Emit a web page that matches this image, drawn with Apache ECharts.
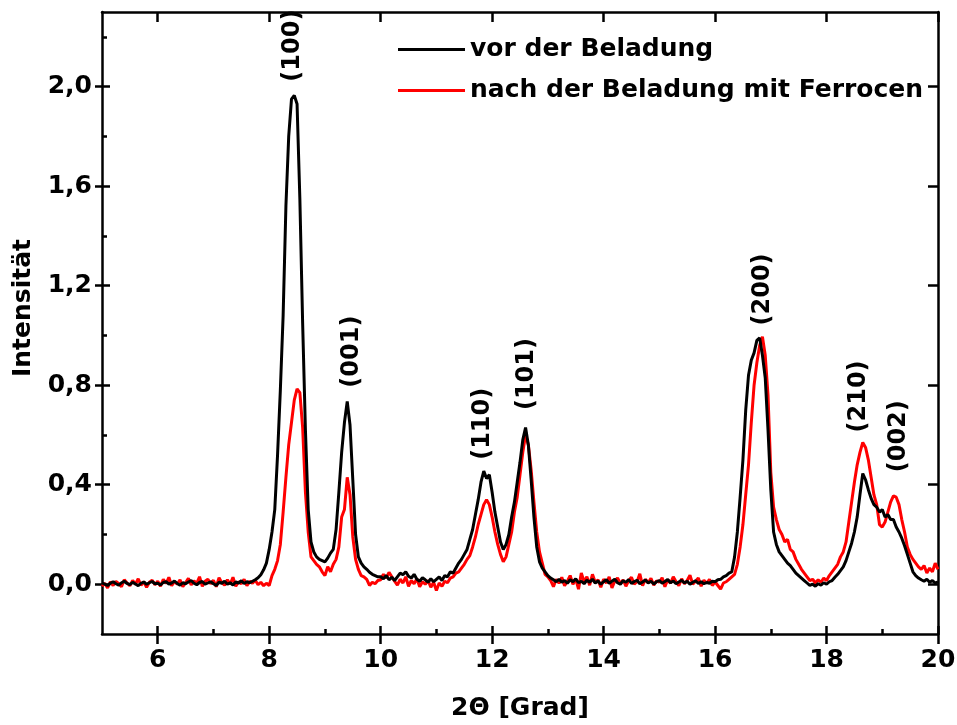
<!DOCTYPE html>
<html>
<head>
<meta charset="utf-8">
<script src="https://cdn.jsdelivr.net/npm/echarts@6/dist/echarts.min.js"></script>
<style>
  html, body { margin: 0; background: #fff; }
  #chart { width: 957px; height: 725px; }
</style>
</head>
<body>
<div id="chart"></div>
<script>
// XRD Diffraktogramm, 2Theta von 5 bis 20 Grad, Schrittweite 0,05
var startWinkel = 5;
var schritt = 0.05;

// vor der Beladung (schwarz), 301 Werte
var vorBeladung = [
  0.005, 0.000, -0.005, 0.004, 0.010, 0.002, -0.004, 0.006, 0.012, 0.003, -0.002, 0.008, 0.001, -0.006, 0.004, 0.009, 0.000, 0.006, 0.011, 0.002,
  0.004, -0.003, 0.007, 0.010, 0.001, 0.005, 0.013, 0.003, -0.004, 0.006, 0.002, 0.009, 0.015, 0.004, -0.002, 0.007, 0.011, 0.000, 0.005, 0.010,
  0.002, -0.005, 0.008, 0.004, 0.012, 0.000, 0.006, -0.003, 0.009, 0.005, 0.014, 0.003, 0.010, 0.006, 0.012, 0.018, 0.026, 0.038, 0.058, 0.085,
  0.140, 0.210, 0.300, 0.520, 0.780, 1.080, 1.520, 1.800, 1.950, 1.965, 1.930, 1.550, 1.050, 0.620, 0.300, 0.170, 0.130, 0.110, 0.100, 0.095,
  0.090, 0.105, 0.125, 0.140, 0.220, 0.370, 0.530, 0.650, 0.735, 0.640, 0.420, 0.200, 0.110, 0.085, 0.070, 0.060, 0.048, 0.040, 0.035, 0.030,
  0.030, 0.022, 0.035, 0.018, 0.028, 0.015, 0.030, 0.045, 0.038, 0.050, 0.032, 0.025, 0.040, 0.020, 0.012, 0.026, 0.018, 0.008, 0.022, 0.010,
  0.020, 0.030, 0.015, 0.035, 0.030, 0.050, 0.045, 0.065, 0.085, 0.100, 0.120, 0.140, 0.180, 0.220, 0.280, 0.340, 0.410, 0.455, 0.425, 0.440,
  0.370, 0.290, 0.230, 0.170, 0.140, 0.160, 0.200, 0.270, 0.330, 0.410, 0.490, 0.580, 0.630, 0.560, 0.420, 0.270, 0.150, 0.090, 0.065, 0.050,
  0.035, 0.025, 0.018, 0.010, 0.020, 0.008, 0.015, 0.004, 0.018, 0.010, 0.022, 0.006, 0.012, 0.002, 0.016, 0.008, 0.020, 0.005, 0.013, 0.000,
  0.010, 0.018, 0.004, 0.012, 0.020, 0.006, 0.000, 0.014, 0.008, 0.019, 0.003, 0.011, 0.016, 0.002, 0.009, 0.017, 0.005, 0.012, 0.001, 0.010,
  0.015, 0.004, 0.011, 0.019, 0.006, 0.013, 0.002, 0.009, 0.016, 0.005, 0.012, 0.000, 0.008, 0.014, 0.003, 0.010, 0.002, 0.007, 0.004, 0.012,
  0.010, 0.018, 0.020, 0.030, 0.035, 0.045, 0.050, 0.110, 0.210, 0.350, 0.500, 0.700, 0.840, 0.900, 0.930, 0.980, 0.990, 0.920, 0.830, 0.620,
  0.380, 0.210, 0.160, 0.130, 0.115, 0.100, 0.085, 0.075, 0.060, 0.045, 0.035, 0.025, 0.015, 0.005, -0.005, 0.000, -0.008, 0.002, -0.004, 0.006,
  0.000, 0.010, 0.015, 0.028, 0.040, 0.055, 0.070, 0.095, 0.130, 0.165, 0.210, 0.270, 0.360, 0.445, 0.420, 0.380, 0.345, 0.320, 0.310, 0.290,
  0.300, 0.270, 0.280, 0.260, 0.260, 0.230, 0.210, 0.185, 0.155, 0.120, 0.085, 0.050, 0.035, 0.025, 0.018, 0.012, 0.020, 0.008, 0.015, 0.005,
  0.010
];

// nach der Beladung mit Ferrocen (rot)
var nachBeladung = [
  -0.008, 0.004, -0.015, 0.010, -0.005, 0.012, 0.002, -0.010, 0.018, 0.005, -0.006, 0.015, 0.000, 0.022, -0.004, 0.010, -0.012, 0.008, 0.016, -0.002,
  0.012, -0.008, 0.020, 0.003, 0.028, -0.006, 0.010, 0.000, 0.018, -0.010, 0.006, 0.024, -0.003, 0.014, 0.004, 0.030, -0.008, 0.012, 0.020, 0.002,
  0.016, -0.010, 0.026, 0.006, -0.004, 0.018, 0.000, 0.028, -0.008, 0.010, 0.002, 0.020, -0.006, 0.012, 0.004, 0.016, -0.002, 0.008, -0.006, 0.004,
  -0.005, 0.035, 0.060, 0.095, 0.160, 0.290, 0.430, 0.560, 0.650, 0.740, 0.785, 0.770, 0.630, 0.370, 0.210, 0.110, 0.095, 0.080, 0.070, 0.050,
  0.035, 0.070, 0.050, 0.080, 0.100, 0.150, 0.270, 0.300, 0.430, 0.360, 0.190, 0.100, 0.060, 0.035, 0.030, 0.020, -0.005, 0.008, 0.002, 0.015,
  0.018, 0.040, 0.025, 0.048, 0.030, 0.012, -0.004, 0.020, 0.005, 0.030, -0.008, 0.015, 0.002, 0.022, -0.010, 0.010, 0.000, 0.015, -0.012, 0.008,
  -0.025, 0.005, -0.008, 0.012, 0.006, 0.025, 0.030, 0.045, 0.050, 0.065, 0.080, 0.100, 0.115, 0.150, 0.190, 0.240, 0.280, 0.320, 0.340, 0.320,
  0.270, 0.210, 0.160, 0.120, 0.090, 0.110, 0.160, 0.210, 0.290, 0.350, 0.440, 0.530, 0.600, 0.560, 0.460, 0.330, 0.210, 0.130, 0.085, 0.040,
  0.030, 0.015, -0.010, 0.020, 0.004, 0.028, -0.006, 0.012, 0.035, 0.000, 0.022, -0.020, 0.045, 0.010, 0.030, -0.004, 0.040, 0.008, 0.018, -0.012,
  0.020, 0.005, 0.030, -0.015, 0.012, 0.025, 0.002, 0.018, -0.008, 0.015, 0.028, 0.000, 0.010, 0.042, -0.006, 0.020, 0.006, 0.024, -0.004, 0.014,
  0.008, 0.026, -0.010, 0.018, 0.004, 0.030, 0.010, -0.006, 0.022, 0.002, 0.015, 0.036, 0.000, 0.012, 0.025, -0.008, 0.016, 0.004, 0.020, -0.005,
  0.010, -0.005, -0.020, 0.005, 0.010, 0.020, 0.030, 0.040, 0.080, 0.150, 0.240, 0.360, 0.480, 0.650, 0.800, 0.890, 0.960, 0.995, 0.920, 0.760,
  0.450, 0.310, 0.260, 0.220, 0.200, 0.170, 0.180, 0.140, 0.130, 0.100, 0.080, 0.060, 0.045, 0.030, 0.015, 0.020, 0.005, 0.018, 0.008, 0.025,
  0.015, 0.035, 0.050, 0.065, 0.080, 0.110, 0.130, 0.170, 0.250, 0.330, 0.410, 0.480, 0.530, 0.570, 0.550, 0.500, 0.430, 0.360, 0.320, 0.240,
  0.230, 0.250, 0.290, 0.330, 0.355, 0.350, 0.320, 0.260, 0.210, 0.150, 0.120, 0.100, 0.085, 0.070, 0.060, 0.075, 0.045, 0.065, 0.050, 0.085,
  0.060
];

// Reflexe (Miller-Indizes)
var reflexe = ['(100)', '(001)', '(110)', '(101)', '(200)', '(210)', '(002)'];
var reflexWinkel = [8.43, 9.48, 11.84, 12.63, 16.86, 18.57, 19.30];
var reflexHoehe = [2.02, 0.79, 0.50, 0.70, 1.04, 0.61, 0.45];

var xTicks = [6, 8, 10, 12, 14, 16, 18, 20];
var xMinor = [7, 9, 11, 13, 15, 17, 19];
var yTicks = [0, 0.4, 0.8, 1.2, 1.6, 2.0];
var yMinor = [0.2, 0.6, 1.0, 1.4, 1.8, 2.2];

var schrift = 'DejaVu Sans';
var strich = { color: '#000', width: 2.5 };

function paare(werte) {
  return werte.map(function (v, i) {
    return [+(startWinkel + i * schritt).toFixed(2), v];
  });
}

// Grundgeruest fuer alle Achsen (auch die reinen Tick-Achsen)
function achse(opt) {
  var basis = {
    type: 'value',
    axisTick: { show: true, lineStyle: strich },
    axisLabel: { show: false },
    splitLine: { show: false }
  };
  var a = Object.assign(basis, opt);
  a.axisLine = Object.assign({ show: false, onZero: false, lineStyle: strich }, opt.axisLine || {});
  return a;
}

var chart = echarts.init(document.getElementById('chart'));

chart.setOption({
  animation: false,
  backgroundColor: '#fff',
  grid: { left: 102, right: 19, top: 12, bottom: 91, outerBoundsMode: 'none' },
  legend: {
    data: ['vor der Beladung', 'nach der Beladung mit Ferrocen'],
    orient: 'vertical',
    left: 393,
    top: 32,
    icon: 'rect',
    itemWidth: 67,
    itemHeight: 3,
    itemGap: 16,
    textStyle: {
      fontFamily: schrift, fontWeight: 'bold', fontSize: 25, color: '#000', lineHeight: 25
    }
  },
  xAxis: [
    achse({
      position: 'bottom', min: 5, max: 20,
      axisLine: { show: true },
      axisTick: { show: true, customValues: xTicks, length: 10, lineStyle: strich },
      axisLabel: {
        show: true, customValues: xTicks, margin: 14,
        fontFamily: schrift, fontWeight: 'bold', fontSize: 25, color: '#000'
      },
      name: '2\u0398 [Grad]', nameLocation: 'middle', nameGap: 62,
      nameTextStyle: { fontFamily: schrift, fontWeight: 'bold', fontSize: 25, color: '#000' }
    }),
    achse({ position: 'bottom', min: 5, max: 20,
      axisTick: { show: true, inside: true, customValues: xTicks, length: 8, lineStyle: strich } }),
    achse({ position: 'bottom', min: 5, max: 20,
      axisTick: { show: true, inside: true, customValues: xMinor, length: 5, lineStyle: strich } }),
    achse({ position: 'top', min: 5, max: 20,
      axisLine: { show: true },
      axisTick: { show: true, inside: true, customValues: xTicks, length: 10, lineStyle: strich } })
  ],
  yAxis: [
    achse({
      position: 'left', min: -0.2, max: 2.3,
      axisLine: { show: true },
      axisTick: { show: true, customValues: yTicks, length: 7, lineStyle: strich },
      axisLabel: {
        show: true, customValues: yTicks, margin: 10,
        fontFamily: schrift, fontWeight: 'bold', fontSize: 25, color: '#000',
        formatter: function (v) { return v.toFixed(1).replace('.', ','); }
      },
      name: 'Intensit\u00e4t', nameLocation: 'middle', nameGap: 66,
      nameTextStyle: {
        fontFamily: schrift, fontWeight: 'bold', fontSize: 25, color: '#000',
        padding: [0, 0, 0, 30]
      }
    }),
    achse({ position: 'left', min: -0.2, max: 2.3,
      axisTick: { show: true, inside: true, customValues: yTicks, length: 8, lineStyle: strich } }),
    achse({ position: 'left', min: -0.2, max: 2.3,
      axisTick: { show: true, inside: true, customValues: yMinor, length: 5, lineStyle: strich } }),
    achse({ position: 'right', min: -0.2, max: 2.3,
      axisLine: { show: true },
      axisTick: { show: true, inside: true, customValues: yTicks, length: 10, lineStyle: strich } })
  ],
  series: [
    {
      name: 'nach der Beladung mit Ferrocen',
      type: 'line',
      data: paare(nachBeladung),
      symbol: 'none',
      z: 2,
      color: '#ff0000',
      lineStyle: { color: '#ff0000', width: 3 }
    },
    {
      name: 'vor der Beladung',
      type: 'line',
      data: paare(vorBeladung),
      symbol: 'none',
      z: 3,
      color: '#000',
      lineStyle: { color: '#000', width: 3 },
      markPoint: {
        symbol: 'circle',
        symbolSize: 0,
        silent: true,
        label: {
          show: true, position: 'inside', rotate: 90, align: 'left', verticalAlign: 'middle',
          fontFamily: schrift, fontWeight: 'bold', fontSize: 24, color: '#000',
          formatter: function (p) { return p.name; }
        },
        data: reflexe.map(function (n, i) {
          return { name: n, coord: [reflexWinkel[i], reflexHoehe[i]] };
        })
      }
    }
  ]
});
</script>
</body>
</html>
